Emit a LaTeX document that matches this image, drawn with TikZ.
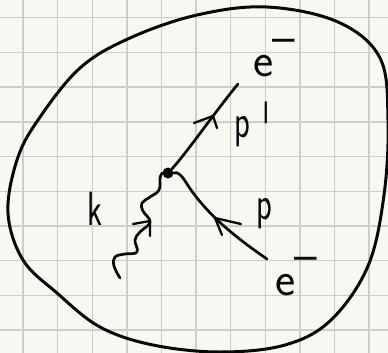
\documentclass[tikz,border=0pt]{standalone}
\usepackage{xcolor}
\usetikzlibrary{positioning}
\definecolor{papel}{RGB}{249,247,242}
\definecolor{rejilla}{RGB}{209,205,198}
\definecolor{tinta}{RGB}{8,8,8}
\newcommand{\emenos}{e\kern-1pt\raisebox{24pt}{--}}
\newcommand{\angosta}[1]{\scalebox{.68}[1]{#1}}
\begin{document}
\begin{tikzpicture}[
x=1pt,y=-1pt,
linea/.style={rejilla,line width=1.4pt},
trazo/.style={tinta,line width=2.7pt,line cap=round,line join=round},
flecha/.style={tinta,line width=2.3pt,line cap=round,line join=round},
contorno/.style={tinta,line width=3pt,line join=round},
etiqueta/.style={tinta,font=\fontsize{48}{48}\selectfont\sffamily,inner sep=0pt,anchor=base west},
vertex/.style={circle,fill=tinta,inner sep=0pt,minimum size=11pt}
]
\useasboundingbox[fill=papel] (0,0) rectangle (388,353);
\foreach \i in {0,...,10} {
  \draw[linea] (23+34.6*\i,0) -- (23+34.6*\i,353);
}
\foreach \j in {0,...,9} {
  \draw[linea] (0,17.7+34.7*\j) -- (388,17.7+34.7*\j);
}

\draw[contorno] plot[smooth cycle,tension=0.6] coordinates {
  (38,120) (80,68) (130,38) (197,15) (267,7) (338,22) (380,58) (388,120)
  (384,195) (368,266) (331,320) (285,345) (220,352) (153,345) (100,327)
  (57,293) (23,260) (8,213) (17,160)};

\node[vertex] (centro) at (168,173) {};
\coordinate (salida) at (238,84);
\coordinate (entrada) at (267,259);
\coordinate (foton) at (120,278);

\draw[trazo] (centro) .. controls (185,155) and (215,112) .. (salida);
\draw[trazo] (entrada) .. controls (232,235) and (205,212) .. (187,184) .. controls (182,176) and (178,171) .. (centro.east);
\draw[trazo] plot[smooth,tension=0.7] coordinates {
  (centro.west) (160,178) (159,190) (150,197) (142,203) (143,211) (150,222)
  (140,232) (135,240) (137,252) (125,254) (115,257) (114,266) (foton)};

% puntas
\draw[flecha] (194,123) -- (213,116) -- (217,128);
\draw[flecha] (241,224) -- (215,218) -- (222,235);
\draw[flecha] (133,224) -- (150,221) -- (150,236);

\node[etiqueta] (esalida) at (253,77) {\emenos};
\node[etiqueta] (pprima) at (234,137) {\angosta{p}\hspace{12pt}\raisebox{-19pt}{\scalebox{.6}[1.6]{\textquotesingle}}};
\node[etiqueta] (foton-k) at (87,225) {\angosta{k}};
\node[etiqueta] (pentrada) at (256,219) {\angosta{p}};
\node[etiqueta] (eentrada) at (275,295) {\emenos};
\end{tikzpicture}
\end{document}
